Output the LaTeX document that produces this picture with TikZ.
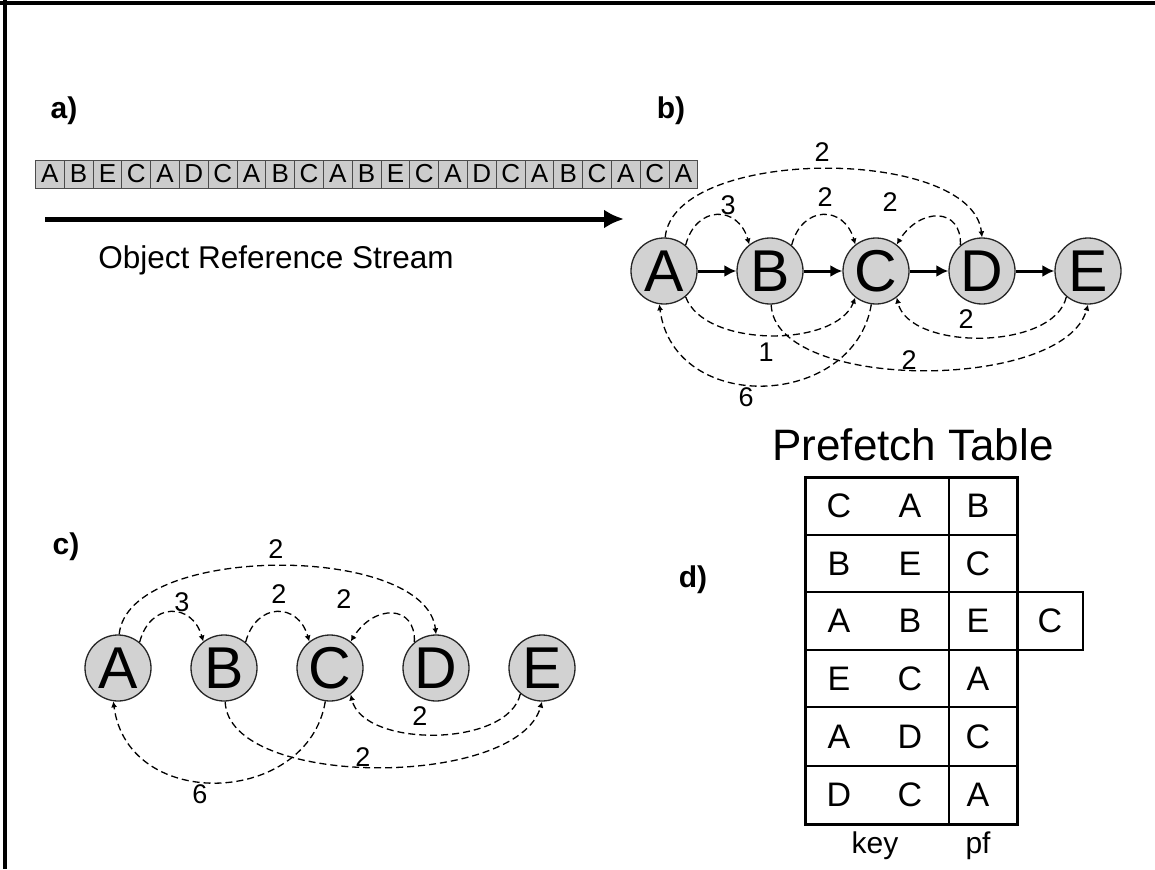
\documentclass[tikz,border=0pt]{standalone}
\usepackage{fontspec}
\setmainfont{Liberation Sans}
\usetikzlibrary{arrows.meta}
\newcommand{\fs}[1]{\fontsize{#1}{#1}\selectfont}
\newcommand{\drawgraph}[4]{%
\begin{scope}[shift={(#2,#3)}]
\foreach \n/\x in {A/0,B/106,C/212,D/318,E/424} \node[gnode] (#1\n) at (\x,0) {\n};
\draw[dedge] (#1A.88) .. controls (10,-125) and (308,-125) .. (#1D.90);
\node[elabel] (#1l1) at (158,-119) {2};
\draw[dedge] (#1A.50) .. controls (32,-66) and (74,-66) .. (#1B.128);
\node[elabel] (#1l2) at (64,-66) {3};
\draw[dedge] (#1B.50) .. controls (138,-66) and (180,-66) .. (#1C.128);
\node[elabel] (#1l3) at (161,-74) {2};
\draw[dedge] (#1D.130) .. controls (298,-64) and (256,-64) .. (#1C.52);
\node[elabel] (#1l4) at (226,-69) {2};
\draw[dedge] (#1C.-98) .. controls (190,138) and (10,145) .. (#1A.-98);
\node[elabel] (#1l5) at (82,126) {6};
\draw[dedge] (#1B.-88) .. controls (110,121) and (400,121) .. (#1E.-90);
\node[elabel] (#1l6) at (245,89) {2};
\draw[dedge] (#1E.-130) .. controls (390,80) and (245,80) .. (#1C.-52);
\node[elabel] (#1l7) at (302,48) {2};
#4
\end{scope}}
\begin{document}
\begin{tikzpicture}[x=1pt,y=-1pt,
  gnode/.style={circle,draw=black!85,line width=1.3pt,fill=gray!35,minimum size=66pt,inner sep=0pt,font=\fs{59}},
  dedge/.style={line width=1.3pt,dash pattern=on 7pt off 4pt,-{Latex[length=6pt,width=6pt]}},
  elabel/.style={inner sep=0pt,font=\fs{27}},
  sarrow/.style={line width=3pt,-{Latex[length=12pt,width=12pt]}},
  sbox/.style={draw=black!70,fill=gray!40,line width=0.9pt,minimum width=28.8pt,minimum height=28pt,inner sep=0pt,anchor=west,font=\fs{26}},
  plabel/.style={font=\bfseries\fs{30},inner sep=0pt},
  tlet/.style={font=\fs{34},inner sep=0pt},
  thin/.style={line width=1.3pt}]
\useasboundingbox (0,0) rectangle (1155,869);
% frame
\draw[line width=3.5pt] (0,3) -- (1155,3);
\draw[line width=3.5pt] (5,0) -- (5,869);
% panel labels
\node[plabel] (la) at (64,111) {a)};
\node[plabel] (lb) at (671,111) {b)};
\node[plabel] (lc) at (66,547) {c)};
\node[plabel] (ld) at (693,580) {d)};
% stream
\foreach \l [count=\i] in {A,B,E,C,A,D,C,A,B,C,A,B,E,C,A,D,C,A,B,C,A,C,A}
  \node[sbox] (s\i) at ({35+28.8*(\i-1)},174) {\l};
\coordinate (st0) at (45,219);
\coordinate (st1) at (624,219);
\draw[line width=5pt,-{Latex[length=20pt,width=19pt]}] (st0) -- (st1);
\node[font=\fs{31.5},anchor=base,inner sep=0pt] (ors) at (276,268) {Object Reference Stream};
% graphs
\drawgraph{b}{664}{271}{%
  \draw[dedge] (bA.-50) .. controls (40,77) and (172,77) .. (bC.-128);
  \node[elabel] (bl8) at (102,81) {1};
  \draw[sarrow] (bA) -- (bB);
  \draw[sarrow] (bB) -- (bC);
  \draw[sarrow] (bC) -- (bD);
  \draw[sarrow] (bD) -- (bE);}
\drawgraph{c}{118}{668}{}
% prefetch table
\node[font=\fs{44},anchor=base,inner sep=0pt] (pt) at (913,460) {Prefetch Table};
\draw[thin] (1017,592) rectangle (1083,650);
\draw[thin] (949,477) -- (949,824);
\foreach \y in {535,592,650,707,766} \draw[thin] (805,\y) -- (1017,\y);
\draw[line width=3pt] (805,477) rectangle (1017,824);
\foreach \a/\b/\c/\y [count=\r] in {C/A/B/506,B/E/C/563.5,A/B/E/621,E/C/A/678.5,A/D/C/736.5,D/C/A/795} {
  \node[tlet] (k\r a) at (839,\y) {\a};
  \node[tlet] (k\r b) at (910,\y) {\b};
  \node[tlet] (p\r) at (978,\y) {\c};
}
\node[tlet] (px) at (1050,621) {C};
\node[font=\fs{30},anchor=base,inner sep=0pt] (key) at (875,853) {key};
\node[font=\fs{30},anchor=base,inner sep=0pt] (pf) at (978,853) {pf};
\end{tikzpicture}
\end{document}
